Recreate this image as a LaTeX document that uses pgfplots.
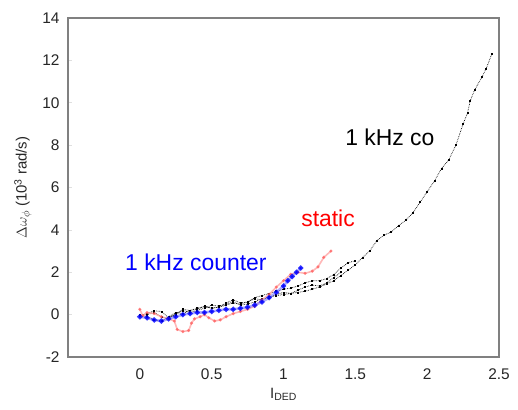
\documentclass[border=0pt]{standalone}
\usepackage{pgfplots}
\pgfplotsset{compat=1.18}
\usepackage{fontspec}
\setmainfont{Liberation Sans}
\begin{document}
\begin{tikzpicture}[x=1bp,y=1bp]
\path (0,0) rectangle (518,409);
\begin{axis}[
  at={(68bp,52bp)}, anchor=south west,
  scale only axis, width=431bp, height=339bp,
  xmin=-0.5, xmax=2.5, ymin=-2, ymax=14,
  xtick={0,0.5,1,1.5,2,2.5},
  ytick={-2,0,2,4,6,8,10,12,14},
  axis line style={draw=gray, line width=1.6pt},
  tick style={gray!25, line width=0.6pt},
  major tick length=4pt,
  tick align=inside,
  xtick pos=bottom, ytick pos=left,
  xtick style={draw=none},
  /pgf/number format/assume math mode=true,
  ticklabel style={font=\fontsize{15.5}{18}\selectfont, text=black!85},
  xticklabel style={yshift=-8pt},
  yticklabel style={xshift=-5pt},
  xlabel={I\textsubscript{DED}},
  ylabel={$\Delta\omega_\phi$ (10\textsuperscript{3} rad/s)},
  label style={font=\fontsize{15}{18}\selectfont, text=black!85},
  xlabel style={yshift=-2pt},
  ylabel style={yshift=4pt},
  clip=false,
]
% black curves
\pgfplotsset{blk/.style={black, densely dotted, line width=0.7pt, mark=square*, mark size=0.5pt, mark options={solid, black}}}
\addplot[blk] coordinates {
(0,-0.05) (0.05,0.05) (0.10,0.18) (0.15,0.15) (0.20,-0.15) (0.25,0.0) (0.30,0.25) (0.35,0.2) (0.40,0.3) (0.45,0.38) (0.50,0.3) (0.55,0.35) (0.60,0.45) (0.65,0.55) (0.70,0.5) (0.75,0.6) (0.80,0.75) (0.85,0.7) (0.90,0.85) (0.95,0.9) (1.00,0.95) (1.05,1.0) (1.10,1.05) (1.15,1.1) (1.20,1.2) (1.25,1.3) (1.30,1.45) (1.35,1.6) (1.40,1.85) (1.45,2.1) (1.50,2.35) (1.55,2.7) (1.60,3.0) (1.65,3.5) (1.70,3.75) (1.75,3.9) (1.80,4.2) (1.85,4.45) (1.90,4.8) (1.95,5.3) (2.00,5.8) (2.05,6.3) (2.10,6.9) (2.15,7.3) (2.20,8.0) (2.25,9.0) (2.28,9.5) (2.30,10.1) (2.33,10.6) (2.38,11.2) (2.41,11.6) (2.45,12.3)
};
\addplot[blk] coordinates {
(0,0.0) (0.05,-0.1) (0.1,-0.25) (0.15,-0.3) (0.2,-0.1) (0.25,0.1) (0.3,0.05) (0.35,0.2) (0.4,0.25) (0.45,0.4) (0.5,0.3) (0.55,0.35) (0.6,0.55) (0.65,0.7) (0.7,0.55) (0.75,0.6) (0.8,0.8) (0.85,0.9) (0.9,1.0) (0.95,1.1) (1.0,1.2) (1.05,1.25) (1.1,1.35) (1.15,1.5) (1.2,1.6) (1.25,1.6) (1.3,1.7) (1.35,1.9) (1.4,2.2) (1.45,2.45) (1.5,2.55)
};
\addplot[blk] coordinates {
(0,-0.05) (0.05,0.0) (0.1,0.1) (0.15,-0.1) (0.2,-0.2) (0.25,0.05) (0.3,0.2) (0.35,0.1) (0.4,0.2) (0.45,0.3) (0.5,0.45) (0.55,0.4) (0.6,0.5) (0.65,0.6) (0.7,0.45) (0.75,0.5) (0.8,0.6) (0.85,0.75) (0.9,0.8) (0.95,0.95) (1.0,1.05) (1.05,1.0) (1.1,1.15) (1.15,1.3) (1.2,1.4) (1.25,1.35) (1.3,1.5) (1.35,1.75) (1.4,2.0)
};
% static (red)
\addplot[red!35, line width=1.6pt, opacity=0.8, mark=*, mark size=0.6pt, mark options={red!60, draw=none}] coordinates {
(0,0.25) (0.02,-0.05) (0.05,0.1) (0.1,0.05) (0.15,-0.1) (0.2,-0.2) (0.24,-0.3) (0.26,-0.7) (0.3,-0.8) (0.34,-0.75) (0.36,-0.4) (0.38,-0.2) (0.42,-0.1) (0.45,0.0) (0.48,-0.15) (0.52,-0.3) (0.56,-0.25) (0.6,-0.1) (0.65,0.05) (0.7,0.15) (0.75,0.25) (0.8,0.4) (0.85,0.7) (0.9,0.95) (0.95,1.3) (1.0,1.6) (1.05,1.9) (1.1,2.0) (1.15,1.95) (1.2,2.05) (1.24,2.25) (1.28,2.7) (1.33,3.0)
};
% 1 kHz counter (blue)
\addplot[blue!55, line width=2.6pt, opacity=0.6, mark=*, mark size=1.1pt, mark options={blue, draw=none, opacity=0.8}] coordinates {
(0,-0.1) (0.05,-0.15) (0.1,-0.25) (0.15,-0.3) (0.2,-0.2) (0.25,-0.1) (0.3,0.0) (0.35,0.05) (0.4,0.1) (0.45,0.1) (0.5,0.15) (0.55,0.2) (0.6,0.25) (0.65,0.25) (0.7,0.3) (0.75,0.35) (0.8,0.45) (0.85,0.6) (0.9,0.8) (0.95,1.05) (1.0,1.35) (1.03,1.6) (1.06,1.8) (1.09,2.0) (1.12,2.2)
};
\node[font=\fontsize{23}{26}\selectfont, text=black] at (axis cs:1.74,8.35) {1 kHz co};
\node[font=\fontsize{23}{26}\selectfont, text=red] at (axis cs:1.31,4.54) {static};
\node[font=\fontsize{23}{26}\selectfont, text=blue] at (axis cs:0.39,2.47) {1 kHz counter};
\end{axis}
\end{tikzpicture}
\end{document}
